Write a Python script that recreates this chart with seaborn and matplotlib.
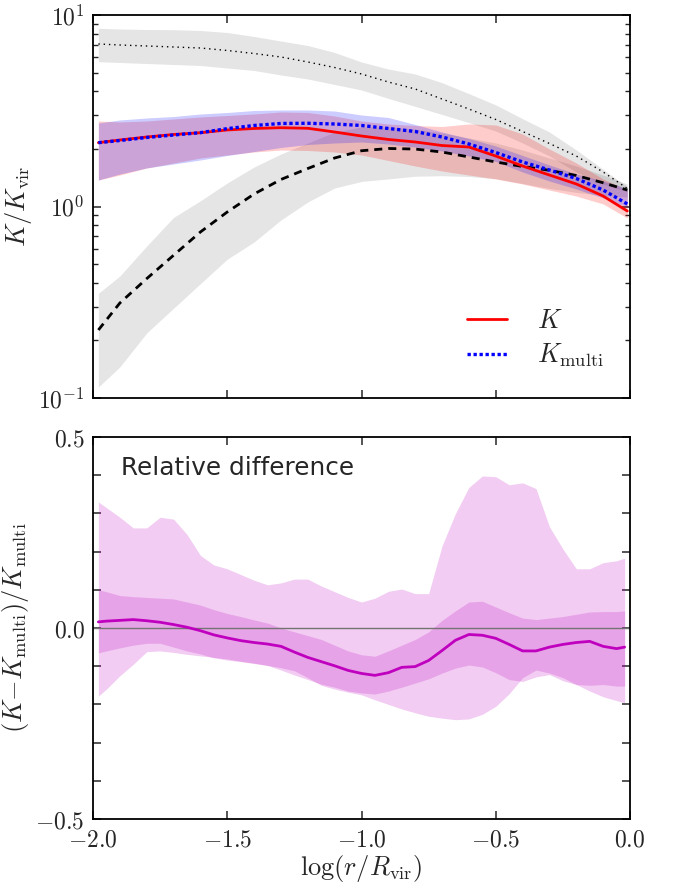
import numpy as np
import pandas as pd
import matplotlib
matplotlib.use("Agg")
import matplotlib.pyplot as plt
import seaborn as sns
from matplotlib.ticker import FixedLocator, FuncFormatter, MultipleLocator, LogLocator, NullFormatter, NullLocator

# ---------------- data ----------------
x_top = [-1.98, -1.9, -1.8, -1.7, -1.6, -1.5, -1.4, -1.3, -1.2, -1.1, -1.0,
         -0.9, -0.8, -0.7, -0.6, -0.5, -0.4, -0.3, -0.2, -0.1, -0.01]

k_vals = [2.154, 2.225, 2.306, 2.377, 2.428, 2.51, 2.555, 2.579, 2.561, 2.449, 2.334,
          2.239, 2.172, 2.082, 2.045, 1.835, 1.627, 1.460, 1.311, 1.134, 0.947]
k_lo = [1.375, 1.460, 1.589, 1.687, 1.792, 1.858, 1.926, 1.972, 1.961, 1.926, 1.858,
        1.739, 1.627, 1.532, 1.460, 1.392, 1.311, 1.219, 1.134, 1.031, 0.871]
k_hi = [2.796, 2.763, 2.796, 2.864, 2.934, 2.987, 3.041, 3.115, 3.097, 2.969, 2.796,
        2.697, 2.649, 2.617, 2.697, 2.665, 2.391, 1.996, 1.687, 1.392, 1.219]

kmulti_vals = [2.154, 2.211, 2.293, 2.362, 2.43, 2.55, 2.649, 2.714, 2.720, 2.697, 2.649,
               2.555, 2.464, 2.306, 2.120, 1.914, 1.708, 1.551, 1.400, 1.219, 1.031]
kmulti_lo = [1.375, 1.478, 1.589, 1.667, 1.749, 1.846, 1.937, 2.033, 2.108, 2.146, 2.172,
             2.120, 2.045, 1.949, 1.835, 1.718, 1.514, 1.359, 1.234, 1.108, 0.994]
kmulti_hi = [2.729, 2.830, 2.899, 2.951, 3.041, 3.097, 3.172, 3.191, 3.191, 3.152, 3.005,
             2.916, 2.681, 2.449, 2.265, 2.070, 1.846, 1.647, 1.478, 1.359, 1.242]

upper_model = [7.058, 6.972, 6.889, 6.807, 6.725, 6.526, 6.295, 6.035, 5.683, 5.319, 4.920,
               4.468, 4.108, 3.642, 3.229, 2.847, 2.464, 2.133, 1.835, 1.514, 1.242]
upper_lo = [5.703, 5.649, 5.581, 5.514, 5.448, 5.287, 5.131, 4.861, 4.633, 4.336, 4.059,
            3.668, 3.333, 3.023, 2.740, 2.479, 2.146, 1.835, 1.514, 1.311, 1.195]
upper_hi = [8.522, 8.452, 8.401, 8.381, 8.302, 8.104, 7.723, 7.314, 6.929, 6.372, 5.683,
            5.224, 4.920, 4.431, 3.886, 3.393, 2.874, 2.449, 1.975, 1.562, 1.269]

lower_model = [0.2265, 0.3133, 0.420, 0.5561, 0.7360, 0.9360, 1.162, 1.384, 1.579, 1.792, 1.955,
               2.009, 1.995, 1.925, 1.814, 1.708, 1.618, 1.545, 1.452, 1.330, 1.219]
lower_lo = [0.1141, 0.1453, 0.2185, 0.2940, 0.3953, 0.5305, 0.6527, 0.8502, 1.056, 1.249, 1.351,
            1.393, 1.439, 1.448, 1.434, 1.398, 1.318, 1.243, 1.185, 1.143, 1.121]
lower_hi = [0.3521, 0.4336, 0.6218, 0.8772, 1.071, 1.327, 1.608, 1.880, 2.146, 2.449, 2.601,
            2.601, 2.540, 2.420, 2.279, 2.146, 1.972, 1.792, 1.627, 1.460, 1.311]

x_bot = [-1.98, -1.95, -1.9, -1.85, -1.8, -1.75, -1.7, -1.65, -1.6, -1.55, -1.5,
         -1.45, -1.4, -1.35, -1.3, -1.25, -1.2, -1.15, -1.1, -1.05, -1.0,
         -0.95, -0.9, -0.85, -0.8, -0.75, -0.7, -0.65, -0.6, -0.55, -0.5,
         -0.45, -0.4, -0.35, -0.3, -0.25, -0.2, -0.15, -0.1, -0.05, -0.02]
rel_diff = [0.016, 0.018, 0.020, 0.022, 0.019, 0.015, 0.009, 0.002, -0.007, -0.018, -0.026,
            -0.033, -0.038, -0.042, -0.048, -0.063, -0.077, -0.088, -0.099, -0.111, -0.119,
            -0.124, -0.117, -0.103, -0.101, -0.085, -0.059, -0.032, -0.017, -0.019, -0.027,
            -0.043, -0.060, -0.060, -0.050, -0.043, -0.038, -0.035, -0.048, -0.054, -0.050]
rel_in_hi = [0.100, 0.095, 0.085, 0.082, 0.080, 0.078, 0.076, 0.068, 0.060, 0.048, 0.038,
             0.030, 0.021, 0.013, 0.000, -0.010, -0.020, -0.030, -0.045, -0.060, -0.070,
             -0.074, -0.060, -0.045, -0.030, -0.010, 0.020, 0.045, 0.068, 0.070, 0.055,
             0.040, 0.026, 0.022, 0.026, 0.030, 0.036, 0.042, 0.043, 0.043, 0.045]
rel_in_lo = [-0.065, -0.060, -0.052, -0.045, -0.040, -0.040, -0.050, -0.060, -0.068, -0.078, -0.084,
             -0.088, -0.093, -0.098, -0.110, -0.123, -0.135, -0.147, -0.155, -0.165, -0.170,
             -0.173, -0.165, -0.155, -0.144, -0.133, -0.118, -0.105, -0.097, -0.102, -0.117,
             -0.135, -0.140, -0.128, -0.122, -0.138, -0.148, -0.150, -0.148, -0.152, -0.152]
rel_out_hi = [0.330, 0.315, 0.290, 0.262, 0.262, 0.290, 0.285, 0.245, 0.190, 0.165, 0.155,
              0.140, 0.125, 0.113, 0.118, 0.128, 0.128, 0.110, 0.095, 0.080, 0.068,
              0.078, 0.096, 0.102, 0.090, 0.090, 0.215, 0.300, 0.368, 0.398, 0.396,
              0.375, 0.380, 0.365, 0.265, 0.207, 0.155, 0.155, 0.171, 0.176, 0.183]
rel_out_lo = [-0.178, -0.160, -0.125, -0.095, -0.062, -0.060, -0.064, -0.069, -0.073, -0.077, -0.081,
              -0.087, -0.092, -0.098, -0.104, -0.112, -0.130, -0.150, -0.160, -0.168, -0.175,
              -0.188, -0.200, -0.212, -0.222, -0.231, -0.236, -0.240, -0.238, -0.226, -0.205,
              -0.172, -0.130, -0.110, -0.118, -0.130, -0.148, -0.165, -0.180, -0.190, -0.196]

x_ticks = [-2.0, -1.5, -1.0, -0.5, 0.0]
top_yticks = [0.1, 1.0, 10.0]
bot_ylabels = [-0.5, 0.0, 0.5]

# ---------------- style ----------------
sns.set_style("ticks")
plt.rcParams.update({
    "font.family": ["DejaVu Sans"],
    "mathtext.fontset": "cm",
    "xtick.direction": "in",
    "ytick.direction": "in",
    "xtick.top": True,
    "ytick.right": True,
    "axes.linewidth": 1.3,
    "axes.edgecolor": "black",
})

fig = plt.figure(figsize=(6.73, 8.86), dpi=100)
W, H = 673.0, 886.0
ax1 = fig.add_axes([93 / W, 1 - 398 / H, 537 / W, 383 / H])
ax2 = fig.add_axes([93 / W, 1 - 819 / H, 537 / W, 382 / H])

top = pd.DataFrame({"x": x_top, "K": k_vals, "Km": kmulti_vals,
                    "up": upper_model, "low": lower_model})
bot = pd.DataFrame({"x": x_bot, "d": rel_diff})

# ---- top panel ----
ax1.fill_between(x_top, upper_lo, upper_hi, color="k", alpha=0.1, lw=0)
ax1.fill_between(x_top, lower_lo, lower_hi, color="k", alpha=0.1, lw=0)
ax1.fill_between(x_top, k_lo, k_hi, color="r", alpha=0.2, lw=0)
ax1.fill_between(x_top, kmulti_lo, kmulti_hi, color="b", alpha=0.2, lw=0)

sns.lineplot(data=top, x="x", y="up", ax=ax1, color="k", lw=1.0,
             linestyle=(0, (1, 2.8)), legend=False)
sns.lineplot(data=top, x="x", y="low", ax=ax1, color="k", lw=2.0,
             linestyle=(0, (2.9, 2.15)), legend=False)
sns.lineplot(data=top, x="x", y="K", ax=ax1, color="r", lw=2.0, label="$K$")
sns.lineplot(data=top, x="x", y="Km", ax=ax1, color="b", lw=2.4,
             linestyle=(0, (1, 0.8)), label=r"$K_{\rm multi}$")

ax1.set_yscale("log")
ax1.set_xlim(-2.0, 0.0)
ax1.set_ylim(0.1, 10.0)
ax1.yaxis.set_major_locator(FixedLocator(top_yticks))
ax1.yaxis.set_major_formatter(FuncFormatter(lambda v, p: r"$10^{%d}$" % int(round(np.log10(v)))))
ax1.yaxis.set_minor_locator(LogLocator(base=10, subs=np.arange(2, 10)))
ax1.yaxis.set_minor_formatter(NullFormatter())
ax1.xaxis.set_major_locator(FixedLocator(x_ticks))
ax1.xaxis.set_minor_locator(NullLocator())
ax1.tick_params(axis="x", labelbottom=False)
ax1.set_xlabel("")
ax1.set_ylabel(r"$K/K_{\rm vir}$", fontsize=19, labelpad=3)
ax1.legend(loc="lower right", frameon=False, fontsize=19, handlelength=1.5,
           handletextpad=1.15, labelspacing=0.3, borderaxespad=0.0, borderpad=0.0,
           bbox_to_anchor=(0.952, 0.075))

# ---- bottom panel ----
ax2.fill_between(x_bot, rel_out_lo, rel_out_hi, color="m", alpha=0.2, lw=0)
ax2.fill_between(x_bot, rel_in_lo, rel_in_hi, color="m", alpha=0.2, lw=0)
ax2.axhline(0.0, color="0.45", lw=1.0)
sns.lineplot(data=bot, x="x", y="d", ax=ax2, color="m", lw=2.0, legend=False)
ax2.text(0.052, 0.90, "Relative difference", transform=ax2.transAxes,
         fontsize=17.8, va="baseline", ha="left")

ax2.set_xlim(-2.0, 0.0)
ax2.set_ylim(-0.5, 0.5)
ax2.xaxis.set_major_locator(FixedLocator(x_ticks))
ax2.xaxis.set_minor_locator(NullLocator())
ax2.xaxis.set_major_formatter(FuncFormatter(lambda v, p: r"$%.1f$" % v))
ax2.yaxis.set_major_locator(MultipleLocator(0.1))
ax2.yaxis.set_major_formatter(FuncFormatter(
    lambda v, p: (r"$%.1f$" % v if any(abs(v - t) < 1e-6 for t in bot_ylabels) else "")))
ax2.set_xlabel(r"$\log(r/R_{\rm vir})$", fontsize=19, labelpad=1)
ax2.set_ylabel(r"$(K{-}K_{\rm multi})/K_{\rm multi}$", fontsize=19, labelpad=3)

for ax in (ax1, ax2):
    ax.tick_params(which="major", length=6, width=1.1, labelsize=17, pad=6,
                   top=True, right=True, direction="in")
    ax.tick_params(which="minor", length=3.5, width=1.0, top=True, right=True, direction="in")
    for s in ax.spines.values():
        s.set_visible(True)
        s.set_linewidth(1.3)

fig.savefig("out.png", dpi=100)
